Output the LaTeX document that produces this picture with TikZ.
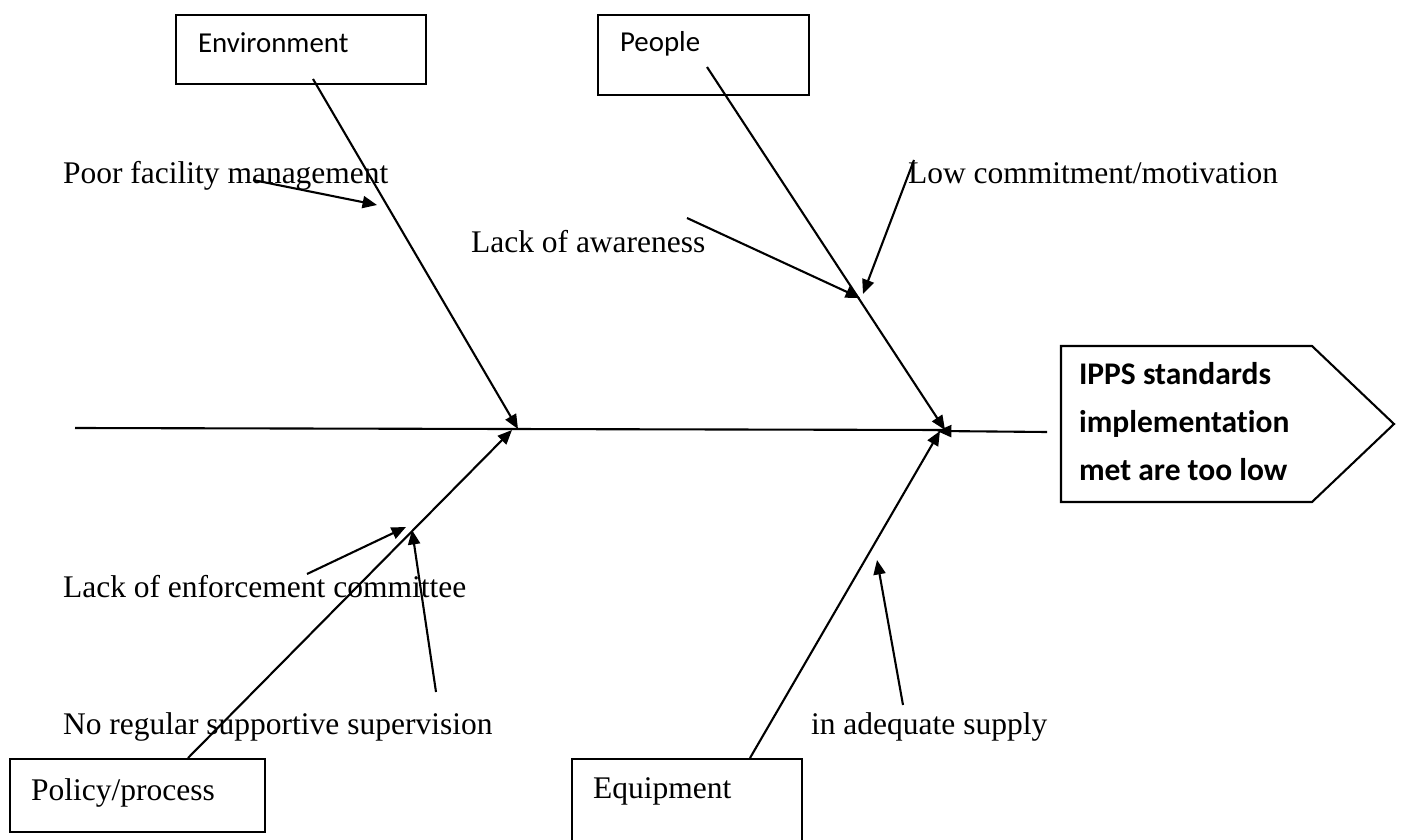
\documentclass[tikz,border=0pt]{standalone}
\usepackage{fontspec}
\setmainfont{Liberation Serif}
\newfontfamily\calibri{Carlito}[RawFeature={-liga}]
\usetikzlibrary{arrows.meta}
\begin{document}
\begin{tikzpicture}[x=0.381pt,y=-0.381pt,line width=0.8pt,
  bone/.style={-{Triangle[length=5.5pt,width=4.6pt]}},
  box/.style={draw,anchor=north west,inner sep=0pt},
  cause/.style={anchor=base west,inner sep=0pt,font=\fontsize{12}{14}\selectfont},
  cat/.style={anchor=base west,inner sep=0pt,font=\calibri\fontsize{11}{13}\selectfont}]
\clip (0,0) rectangle (1401,840);
\fill[white] (0,0) rectangle (1401,840);
\node[box,minimum width=95.3pt,minimum height=26.3pt] (envbox) at (175,14) {};
\node[cat] (envtxt) at (197,53) {Environment};
\node[box,minimum width=80.4pt,minimum height=30.5pt] (peoplebox) at (597,14) {};
\node[cat] (peopletxt) at (619,52) {People};
\node[box,minimum width=97.2pt,minimum height=27.8pt] (policybox) at (9,758) {};
\node[cause] (policytxt) at (30,800) {Policy/process};
\node[box,minimum width=87.6pt,minimum height=38pt] (equipbox) at (571,758) {};
\node[cause] (equiptxt) at (592,798) {Equipment};
\draw (1061,346) -- (1312,346) -- (1394,424) -- (1312,502) -- (1061,502) -- cycle;
\node[anchor=base west,inner sep=0pt,align=left,font=\calibri\bfseries\fontsize{12}{18.1}\selectfont] (effect) at (1078,480) {IPPS standards\\implementation\\met are too low};
\coordinate (spineL) at (75,428);
\coordinate (spineR) at (1047,432);
\coordinate (jR) at (945,430);
\coordinate (jRh) at (937,431);
\coordinate (jLe) at (518,429);
\coordinate (jLp) at (512,430);
\coordinate (envfoot) at (313,79);
\coordinate (peoplefoot) at (707,67);
\coordinate (policyfoot) at (188,758);
\coordinate (equipfoot) at (750,758);
\draw (spineL) -- (jR);
\draw[bone] (spineR) -- (jRh);
\draw[bone] (envfoot) -- (jLe);
\draw[bone] (peoplefoot) -- (jR);
\draw[bone] (policyfoot) -- (jLp);
\draw[bone] (equipfoot) -- (940,431);
\node[cause] (poor) at (62,184) {Poor facility management};
\node[cause] (lowcom) at (907,184) {Low commitment/motivation};
\node[cause] (aware) at (470,253) {Lack of awareness};
\node[cause] (enforce) at (62,597) {Lack of enforcement committee};
\node[cause] (noreg) at (62,734) {No regular supportive supervision};
\node[cause] (supply) at (810,734) {in adequate supply};
\coordinate (poorS) at (253,180);
\coordinate (poorT) at (377,205);
\coordinate (awareS) at (687,218);
\coordinate (awareT) at (860,298);
\coordinate (lowS) at (914,160);
\coordinate (lowT) at (863,294);
\coordinate (enfS) at (307,574);
\coordinate (enfT) at (406,527);
\coordinate (noregS) at (436,692);
\coordinate (noregT) at (412,530);
\coordinate (supS) at (903,705);
\coordinate (supT) at (877,560);
\draw[bone] (poorS) -- (poorT);
\draw[bone] (awareS) -- (awareT);
\draw[bone] (lowS) -- (lowT);
\draw[bone] (enfS) -- (enfT);
\draw[bone] (noregS) -- (noregT);
\draw[bone] (supS) -- (supT);
\end{tikzpicture}
\end{document}
